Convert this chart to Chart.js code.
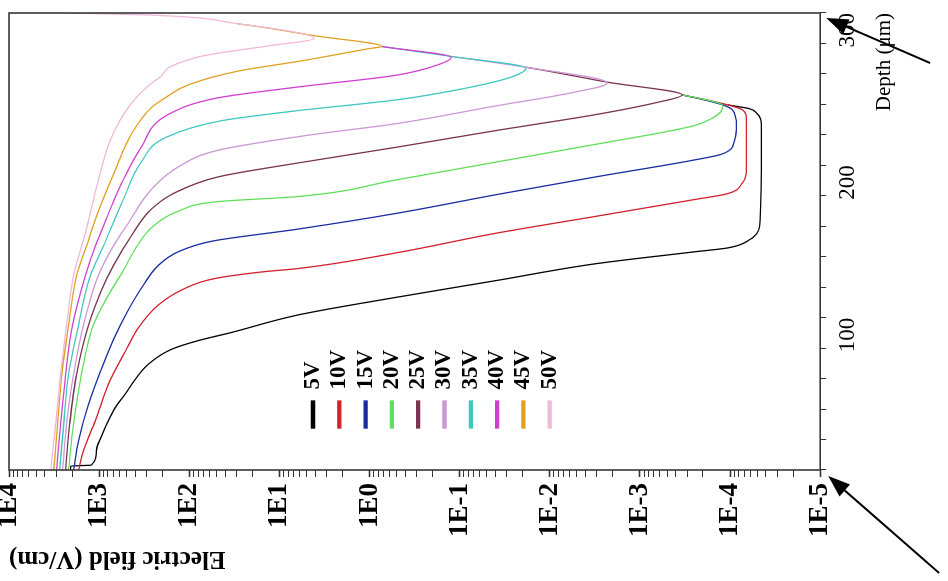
<!DOCTYPE html>
<html>
<head>
<meta charset="utf-8">
<title>Electric field vs depth</title>
<script src="https://cdn.jsdelivr.net/npm/chart.js@4.4.1/dist/chart.umd.min.js"></script>
<style>
  html, body { margin: 0; padding: 0; background: #fff; overflow: hidden; }
  body { width: 948px; height: 581px; position: relative; }
  /* chart is drawn upright (depth on x) and then turned a quarter turn like the figure */
  #wrap { position: absolute; left: 0; top: 0; width: 581px; height: 958px;
          transform-origin: 0 0; transform: translate(-10px, 581px) rotate(-90deg); }
  canvas { display: block; }
</style>
</head>
<body>
<div id="wrap"><canvas id="chart" width="581" height="958"></canvas></div>
<script>
const seriesLabels = ['5V', '10V', '15V', '20V', '25V', '30V', '35V', '40V', '45V', '50V'];
const seriesColors = ['#000000', '#d0202e', '#1a2ca0', '#5ee05a', '#7a3452',
                      '#cc99d6', '#40c8c0', '#d040d0', '#e0a020', '#f0b8d8'];
const fieldTickLabels = ['1E-5', '1E-4', '1E-3', '1E-2', '1E-1', '1E0', '1E1', '1E2', '1E3', '1E4'];
const depthTickLabels = ['100', '200', '300'];

// depth in um, field in V/cm
const depth5V = [0, 2.6, 3.2, 13.0, 22.0, 32.4, 42.1, 49.9, 57.7, 69.3, 79.1, 84.9, 90.1, 101.7, 113.4, 124.4, 135.4, 143.2, 145.8, 150.3, 160.0, 205.4, 226.8, 233.9, 237.2, 239.7, 246.2, 254.6, 264.4, 271.5, 278.0, 285.1, 292.9, 298.7, 300];
const field5V = [2070, 2070, 1220, 1070, 942, 789, 644, 513, 418, 286, 159, 80, 35, 6.3, 0.50, 0.039, 0.0031, 2.5e-4, 1.06e-4, 6.4e-5, 4.7e-5, 4.5e-5, 4.5e-5, 5.0e-5, 6.1e-5, 1.06e-4, 3.4e-4, 2.3e-3, 0.0184, 0.124, 0.73, 4.1, 29, 286, 2180];

const depth10V = [0, 13.0, 32.4, 56.4, 77.8, 93.3, 108.2, 117.9, 125.7, 130.2, 132.2, 142.6, 155.5, 166.5, 177.5, 181.4, 187.9, 195.7, 231.3, 236.5, 239.7, 246.2, 254.6, 264.4, 271.5, 278.0, 285.1, 292.9, 298.7, 300];
const field10V = [1690, 1490, 1100, 789, 513, 368, 222, 124, 52, 14.7, 6.3, 0.50, 0.039, 0.0031, 2.5e-4, 1.06e-4, 7.4e-5, 6.6e-5, 6.6e-5, 7.3e-5, 1.06e-4, 3.4e-4, 2.3e-3, 0.0184, 0.124, 0.73, 4.1, 29, 286, 2180];

const depth15V = [0, 19.4, 43.4, 64.8, 85.5, 105.0, 121.2, 134.1, 143.2, 150.3, 158.1, 168.5, 180.8, 192.4, 203.5, 207.3, 216.4, 226.8, 231.3, 237.8, 246.2, 254.6, 264.4, 271.5, 278.0, 285.1, 292.9, 298.7, 300];
const field15V = [1920, 1690, 1310, 966, 695, 475, 324, 222, 133, 55, 6.3, 0.50, 0.039, 0.0031, 2.5e-4, 1.24e-4, 8.9e-5, 8.5e-5, 8.7e-5, 1.01e-4, 3.4e-4, 2.3e-3, 0.0184, 0.124, 0.73, 4.1, 29, 286, 2180];

const depth20V = [0, 30.5, 62.9, 95.3, 114.7, 130.9, 145.1, 160.0, 169.8, 176.2, 179.5, 190.5, 202.2, 213.8, 226.1, 233.3, 239.1, 246.2, 254.6, 264.4, 271.5, 278.0, 285.1, 292.9, 298.7, 300];
const field20V = [2180, 1920, 1570, 1160, 789, 540, 397, 252, 133, 48, 6.3, 0.50, 0.039, 0.0031, 2.5e-4, 1.37e-4, 1.2e-4, 3.4e-4, 2.3e-3, 0.0184, 0.124, 0.73, 4.1, 29, 286, 2180];

const depth25V = [0, 30.5, 62.9, 95.3, 117.9, 134.1, 153.6, 171.1, 181.4, 192.4, 201.5, 211.9, 222.9, 233.3, 241.0, 246.2, 254.6, 264.4, 271.5, 278.0, 285.1, 292.9, 298.7, 300];
const field25V = [2350, 2120, 1780, 1310, 942, 695, 440, 265, 151, 48, 6.3, 0.50, 0.039, 0.0031, 6.8e-4, 3.4e-4, 2.3e-3, 0.0184, 0.124, 0.73, 4.1, 29, 286, 2180];

const depth30V = [0, 30.5, 62.9, 95.3, 127.6, 147.1, 162.0, 184.0, 198.9, 209.9, 219.7, 227.4, 239.1, 247.5, 254.0, 264.4, 271.5, 278.0, 285.1, 292.9, 298.7, 300];
const field30V = [2540, 2290, 1920, 1490, 1020, 695, 475, 265, 133, 48, 4.9, 0.50, 0.039, 0.0059, 0.0023, 0.0184, 0.124, 0.73, 4.1, 29, 286, 2180];

const depth35V = [0, 30.5, 62.9, 95.3, 127.6, 147.1, 177.5, 202.2, 218.4, 229.4, 235.9, 243.0, 250.7, 257.9, 263.7, 271.5, 278.0, 285.1, 292.9, 298.7, 300];
const field35V = [2740, 2470, 2180, 1690, 1250, 895, 540, 341, 181, 43, 6.3, 0.50, 0.085, 0.027, 0.0184, 0.124, 0.73, 4.1, 29, 286, 2180];

const depth40V = [0, 30.5, 62.9, 95.3, 127.6, 147.1, 160.0, 176.2, 190.5, 211.9, 233.3, 244.3, 251.4, 259.2, 265.7, 270.8, 278.0, 285.1, 292.9, 298.7, 300];
const field40V = [2960, 2670, 2350, 1970, 1420, 1100, 895, 695, 540, 341, 172, 48, 6.3, 0.50, 0.18, 0.124, 0.73, 4.1, 29, 286, 2180];

const depth45V = [0, 30.5, 62.9, 95.3, 127.6, 147.1, 169.8, 197.0, 220.3, 237.8, 244.3, 252.7, 261.8, 268.9, 276.7, 278.0, 285.1, 292.9, 298.7, 300];
const field45V = [3190, 2880, 2600, 2180, 1780, 1380, 1020, 661, 440, 265, 185, 104, 29, 5.3, 0.99, 0.73, 4.1, 29, 286, 2180];

const depth50V = [0, 30.5, 62.9, 95.3, 127.6, 155.5, 182.7, 213.2, 230.0, 242.3, 252.1, 258.5, 265.0, 272.1, 278.6, 283.2, 292.9, 298.7, 300];
const field50V = [3440, 3030, 2670, 2290, 1920, 1420, 1100, 789, 582, 418, 286, 206, 159, 67, 12.6, 4.1, 29, 286, 2180];

const depths = [depth5V, depth10V, depth15V, depth20V, depth25V, depth30V, depth35V, depth40V, depth45V, depth50V];
const fields = [field5V, field10V, field15V, field20V, field25V, field30V, field35V, field40V, field45V, field50V];

Chart.defaults.font.family = "'Liberation Serif', 'Times New Roman', serif";
Chart.defaults.color = '#000';

// segments a higher-voltage curve also passes through: only the top curve shows there,
// as in the original plot (otherwise the stacked antialiased edges go dark)
const segKey = (d, f, k) => d[k] + ':' + f[k] + ':' + d[k + 1] + ':' + f[k + 1];
const coveredSegs = depths.map((d, i) => {
  const s = new Set();
  for (let j = i + 1; j < depths.length; j++) {
    for (let k = 0; k < depths[j].length - 1; k++) s.add(segKey(depths[j], fields[j], k));
  }
  return s;
});

const datasets = seriesLabels.map((label, i) => ({
  label: label,
  data: depths[i].map((d, j) => ({ x: d, y: fields[i][j] })),
  borderColor: seriesColors[i],
  backgroundColor: seriesColors[i],
  borderWidth: 1.3,
  pointRadius: 0,
  fill: false,
  cubicInterpolationMode: 'monotone',
  order: seriesLabels.length - i,
  segment: {
    borderColor: (c) => coveredSegs[i].has(segKey(depths[i], fields[i], c.p0DataIndex)) ? 'rgba(0,0,0,0)' : undefined
  }
}));

// box around the plot area
const framePlugin = {
  id: 'frame',
  afterDraw(chart) {
    const { ctx, chartArea: a } = chart;
    ctx.save();
    ctx.strokeStyle = '#383838';
    ctx.lineWidth = 1.6;
    ctx.strokeRect(a.left, a.top, a.right - a.left, a.bottom - a.top);
    ctx.restore();
  }
};

// the two pointer arrows at the corners
const arrowPlugin = {
  id: 'arrows',
  afterDraw(chart) {
    const { ctx, chartArea: a } = chart;
    const arrows = [
      [a.right - 50, a.bottom + 110, a.right - 5, a.bottom + 6],
      [a.left - 103, a.bottom + 119, a.left - 6, a.bottom + 8]
    ];
    ctx.save();
    ctx.strokeStyle = '#000';
    ctx.fillStyle = '#000';
    ctx.lineWidth = 2;
    arrows.forEach(([x0, y0, x1, y1]) => {
      const ang = Math.atan2(y1 - y0, x1 - x0);
      const len = 22, half = 8;
      const bx = x1 - len * Math.cos(ang), by = y1 - len * Math.sin(ang);
      ctx.beginPath();
      ctx.moveTo(x0, y0);
      ctx.lineTo(bx, by);
      ctx.stroke();
      ctx.beginPath();
      ctx.moveTo(x1, y1);
      ctx.lineTo(bx + half * Math.sin(ang), by - half * Math.cos(ang));
      ctx.lineTo(bx - half * Math.sin(ang), by + half * Math.cos(ang));
      ctx.closePath();
      ctx.fill();
    });
    ctx.restore();
  }
};

// put the legend inside the plot, where the figure has it
const legendPlace = {
  id: 'legendPlace',
  afterLayout(chart) {
    const lg = chart.legend;
    const a = chart.chartArea;
    const pad = lg.options.labels.padding;
    lg.left = a.left + 42 - pad;
    lg.right = lg.left + lg.width;
    lg.top = a.top + 304 - 11.5 - pad;
    lg.bottom = lg.top + 1000;
  }
};

new Chart(document.getElementById('chart'), {
  type: 'line',
  data: { datasets: datasets },
  options: {
    responsive: false,
    animation: false,
    layout: { padding: { left: 8, right: 13, top: 19, bottom: 51 } },
    plugins: {
      legend: {
        position: 'chartArea',
        align: 'start',
        labels: {
          boxWidth: 27,
          boxHeight: 3,
          padding: 3.3,
          color: '#000',
          font: { size: 23, weight: 'bold' },
          sort: (a, b) => a.datasetIndex - b.datasetIndex
        }
      },
      tooltip: { enabled: false }
    },
    scales: {
      x: {
        type: 'linear',
        min: 0,
        max: 300,
        border: { display: false },
        grid: { drawOnChartArea: false, tickLength: 6, tickColor: '#333' },
        ticks: {
          stepSize: 20,
          autoSkip: false,
          maxRotation: 0,
          minRotation: 0,
          align: 'end',
          padding: 8,
          font: { size: 23 },
          callback: (v) => depthTickLabels.includes(String(v)) ? String(v) : ''
        },
        title: {
          display: true,
          text: 'Depth (μm)',
          align: 'end',
          font: { size: 21 },
          padding: { top: 2, bottom: 0 }
        }
      },
      y: {
        type: 'logarithmic',
        min: 1e-5,
        max: 1e4,
        border: { display: false },
        grid: {
          drawOnChartArea: false,
          tickLength: 7,
          tickColor: '#333',
          tickWidth: (c) => (c.tick && c.tick.major ? 1.6 : 1)
        },
        afterBuildTicks: (axis) => {
          const ticks = [];
          for (let e = -5; e < 4; e++) {
            for (let m = 1; m < 10; m++) ticks.push({ value: m * Math.pow(10, e), major: m === 1 });
          }
          ticks.push({ value: 1e4, major: true });
          axis.ticks = ticks;
        },
        afterFit: (axis) => { axis.paddingTop = 0; axis.paddingBottom = 0; },
        ticks: {
          autoSkip: false,
          padding: 6,
          font: { size: 27, weight: 'bold' },
          callback: (v, i, ticks) => ticks[i].major ? fieldTickLabels[Math.round(Math.log10(v)) + 5] : ''
        },
        title: {
          display: true,
          text: 'Electric field (V/cm)',
          align: 'end',
          font: { size: 25, weight: 'bold' },
          padding: 0
        }
      }
    }
  },
  plugins: [framePlugin, arrowPlugin, legendPlace]
});
</script>
</body>
</html>
